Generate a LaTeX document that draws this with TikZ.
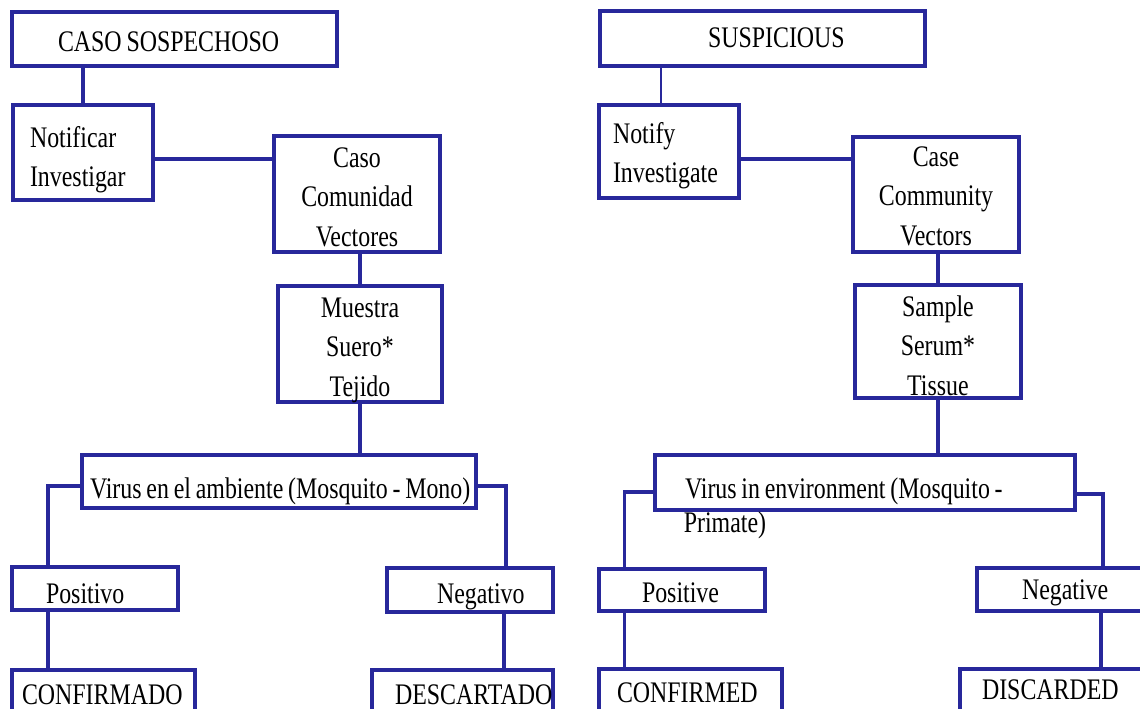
\documentclass[tikz,border=0pt]{standalone}
\usepackage{fontspec}
\setmainfont{Liberation Serif}[FakeStretch=0.8, WordSpace=0.8]
\usetikzlibrary{positioning}
\definecolor{frameblue}{RGB}{40,40,155}

\begin{document}
\begin{tikzpicture}[
		x=0.02cm, y=-0.02cm,
		box/.style n args={4}{draw=frameblue, line width=1.8pt, inner sep=0pt,
			font=\fontsize{17}{22.5}\selectfont,
			execute at begin node={\begin{minipage}[c][#2][t]{#1}\leftskip=#4\rule{0pt}{#3}},
			execute at end node={\end{minipage}}},
		loose/.style={inner sep=0pt, font=\fontsize{17}{22.5}\selectfont},
		link/.style={draw=frameblue, line width=1.8pt},
		thinlink/.style={draw=frameblue, line width=0.9pt}
	]
	\clip (0,0) rectangle (1140,708);

	\node[box={6.5cm}{1.08cm}{0.78cm}{0.92cm}] (caso) at (174.5,39) {CASO SOSPECHOSO};
	\node[box={2.8cm}{1.9cm}{0.84cm}{0.34cm}] (notif) at (83,152.5) {Notificar\\Investigar};
	\node[box={3.32cm}{2.32cm}{0.62cm}{0cm}] (comun) at (357,194) {\centering Caso\\Comunidad\\Vectores\par};
	\node[box={3.28cm}{2.32cm}{0.62cm}{0cm}] (muestra) at (360,344) {\centering Muestra\\Suero*\\Tejido\par};
	\node[box={7.88cm}{1.06cm}{0.86cm}{0.16cm}] (virusL) at (279,481.5) {Virus en el ambiente (Mosquito - Mono)};
	\node[box={3.32cm}{0.86cm}{0.72cm}{0.68cm}] (posL) at (95,588.5) {Positivo};
	\node[box={3.32cm}{0.88cm}{0.7cm}{1cm}] (negL) at (470,590) {Negativo};
	\node[box={3.66cm}{0.84cm}{0.68cm}{0.2cm}] (confL) at (103.5,691) {CONFIRMADO};
	\node[box={3.62cm}{0.84cm}{0.68cm}{0.46cm}] (descL) at (462.5,691) {DESCARTADO};

	\node[box={6.5cm}{1.1cm}{0.73cm}{2.16cm}] (susp) at (762.5,38.5) {SUSPICIOUS};
	\node[box={2.8cm}{1.86cm}{0.76cm}{0.28cm}] (notify) at (669,151.5) {Notify\\Investigate};
	\node[box={3.32cm}{2.3cm}{0.58cm}{0cm}] (case) at (936,194.5) {\centering Case\\Community\\Vectors\par};
	\node[box={3.32cm}{2.26cm}{0.62cm}{0cm}] (sample) at (938,341.5) {\centering Sample\\Serum*\\Tissue\par};
	\node[box={8.4cm}{1.1cm}{0.86cm}{0.6cm}] (virusR) at (865,482.5) {Virus in environment (Mosquito -};
	\node[loose, below right=0cm and 0.6cm of virusR.south west] (primate) {Primate)};
	\node[box={3.32cm}{0.84cm}{0.66cm}{0.86cm}] (posR) at (682,590) {Positive};
	\node[box={3.46cm}{0.86cm}{0.62cm}{0.9cm}] (negR) at (1063.5,589.5) {Negative};
	\node[box={3.66cm}{0.84cm}{0.66cm}{0.36cm}] (confR) at (690.5,690) {CONFIRMED};
	\node[box={3.8cm}{0.84cm}{0.6cm}{0.44cm}] (discR) at (1055,690) {DISCARDED};

	\draw[link] (notif.north) -- (notif.north |- caso.south);
	\draw[link] ([yshift=-0.13cm]notif.east) -- ([yshift=-0.13cm]notif.east -| comun.west);
	\draw[link] (muestra.north) -- (muestra.north |- comun.south);
	\draw[link] (muestra.south) -- (muestra.south |- virusL.north);
	\draw[link] ([yshift=-0.09cm]virusL.west) -| ([xshift=-0.94cm]posL.north);
	\draw[link] ([xshift=-0.94cm]posL.south) -- ([xshift=-0.94cm]posL.south |- confL.north);
	\draw[link] ([yshift=-0.09cm]virusL.east) -| ([xshift=0.72cm]negL.north);
	\draw[link] ([xshift=0.68cm]negL.south) -- ([xshift=0.68cm]negL.south |- descL.north);

	\draw[thinlink] ([xshift=-0.16cm]notify.north) -- ([xshift=-0.16cm]notify.north |- susp.south);
	\draw[link] ([yshift=-0.15cm]notify.east) -- ([yshift=-0.15cm]notify.east -| case.west);
	\draw[link] (sample.north) -- (sample.north |- case.south);
	\draw[link] (sample.south) -- (sample.south |- virusR.north);
	\draw[link] ([yshift=-0.19cm]virusR.west) -| ([xshift=-1.15cm]posR.north);
	\draw[link] ([xshift=-1.15cm]posR.south) -- ([xshift=-1.15cm]posR.south |- confR.north);
	\draw[link] ([yshift=-0.23cm]virusR.east) -| ([xshift=0.79cm]negR.north);
	\draw[link] ([xshift=0.75cm]negR.south) -- ([xshift=0.75cm]negR.south |- discR.north);
\end{tikzpicture}
\end{document}
